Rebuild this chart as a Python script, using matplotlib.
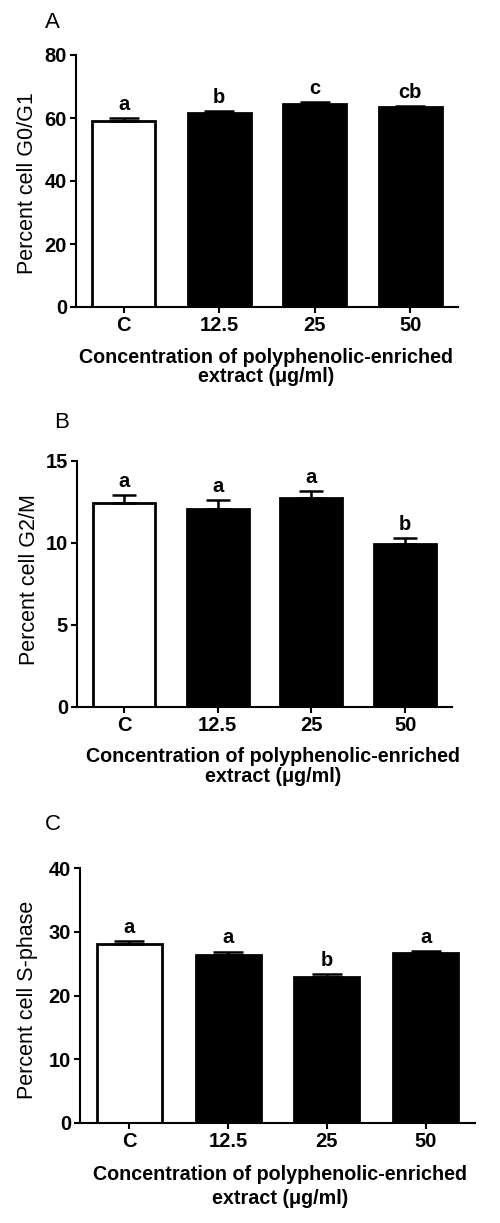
import matplotlib
matplotlib.use("Agg")
import matplotlib.pyplot as plt
import numpy as np

plt.rcParams['font.family'] = ['Liberation Sans', 'DejaVu Sans']

categories = ['C', '12.5', '25', '50']

g0g1 = [59.1, 61.7, 64.5, 63.4]
g0g1_err = [1.0, 0.5, 0.6, 0.4]
g0g1_letters = ['a', 'b', 'c', 'cb']

g2m = [12.46, 12.09, 12.76, 9.94]
g2m_err = [0.47, 0.53, 0.41, 0.35]
g2m_letters = ['a', 'a', 'a', 'b']

sphase = [28.1, 26.35, 22.9, 26.7]
sphase_err = [0.4, 0.55, 0.5, 0.25]
sphase_letters = ['a', 'a', 'b', 'a']

W, H = 500, 1223
fig = plt.figure(figsize=(W / 100, H / 100), dpi=100)

def px_axes(left, right, top, bottom):
    return [left / W, 1 - bottom / H, (right - left) / W, (bottom - top) / H]

panels = [
    dict(rect=px_axes(76, 458, 55, 307), vals=g0g1, err=g0g1_err, let=g0g1_letters,
         ymax=80, yticks=[0, 20, 40, 60, 80], ylabel='Percent cell G0/G1',
         tag='A', tagxy=(52, 23), ylabxy=(28, 183), xlab1=(266, 357), xlab2=(266, 376), cap=11),
    dict(rect=px_axes(77, 452, 461, 707), vals=g2m, err=g2m_err, let=g2m_letters,
         ymax=15, yticks=[0, 5, 10, 15], ylabel='Percent cell G2/M',
         tag='B', tagxy=(62, 422), ylabxy=(30, 580), xlab1=(273, 756), xlab2=(273, 776), cap=8.5),
    dict(rect=px_axes(80, 475, 868, 1123), vals=sphase, err=sphase_err, let=sphase_letters,
         ymax=40, yticks=[0, 10, 20, 30, 40], ylabel='Percent cell S-phase',
         tag='C', tagxy=(53, 825), ylabxy=(28, 1000), xlab1=(280, 1175), xlab2=(280, 1198), cap=11),
]

x = np.arange(len(categories))
for p in panels:
    ax = fig.add_axes(p['rect'])
    colors = ['white', 'black', 'black', 'black']
    ax.bar(x, p['vals'], width=0.66, color=colors, edgecolor='black', linewidth=2.0, zorder=2)
    ax.errorbar(x, p['vals'], yerr=[np.zeros(len(x)), p['err']], fmt='none',
                ecolor='black', elinewidth=1.8, capsize=p['cap'], capthick=1.8, zorder=3)
    for xi, v, e, l in zip(x, p['vals'], p['err'], p['let']):
        ax.annotate(l, (xi, v + e), xytext=(0, 3), textcoords='offset points',
                    ha='center', va='bottom', fontsize=14.5, fontweight='bold')
    ax.set_xlim(-0.5, 3.5)
    ax.set_ylim(0, p['ymax'])
    ax.set_yticks(p['yticks'])
    ax.set_xticks(x)
    ax.set_xticklabels(categories)
    for s in ['top', 'right']:
        ax.spines[s].set_visible(False)
    for s in ['left', 'bottom']:
        ax.spines[s].set_linewidth(1.5)
    ax.tick_params(axis='both', width=1.5, length=4, labelsize=14.5, pad=2.5)
    for t in ax.get_xticklabels() + ax.get_yticklabels():
        t.set_fontweight('bold')
    ax.set_facecolor('none')
    fig.text(p['tagxy'][0] / W, 1 - p['tagxy'][1] / H, p['tag'], fontsize=16,
             ha='center', va='center')
    fig.text(p['ylabxy'][0] / W, 1 - p['ylabxy'][1] / H, p['ylabel'], fontsize=15.5,
             rotation=90, ha='center', va='center')
    fig.text(p['xlab1'][0] / W, 1 - p['xlab1'][1] / H, 'Concentration of polyphenolic-enriched',
             fontsize=14.2, fontweight='bold', ha='center', va='center')
    fig.text(p['xlab2'][0] / W, 1 - p['xlab2'][1] / H, 'extract (\u03bcg/ml)',
             fontsize=14.2, fontweight='bold', ha='center', va='center')

fig.savefig('out.png', dpi=100)
